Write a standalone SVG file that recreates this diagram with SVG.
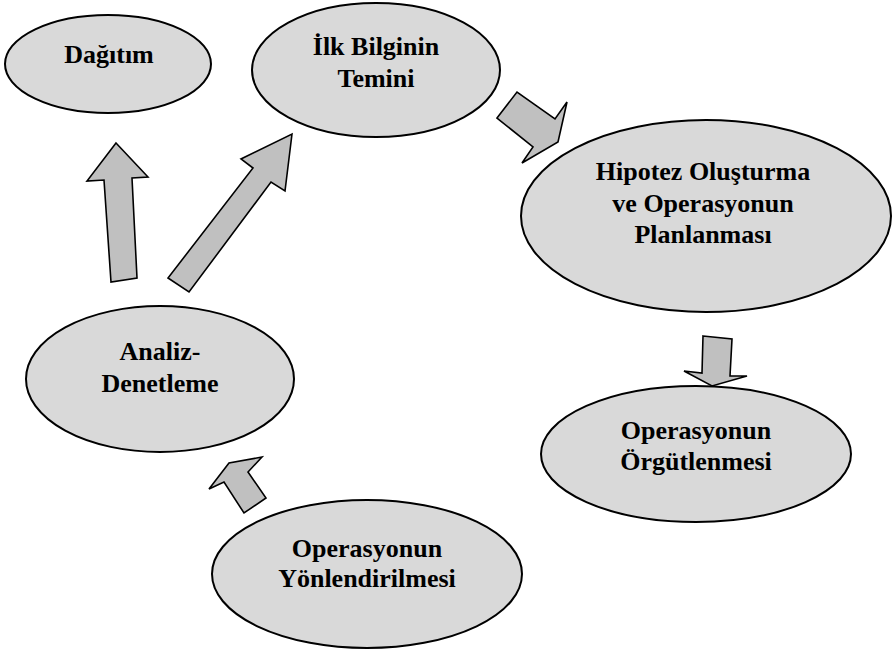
<svg xmlns="http://www.w3.org/2000/svg" width="892" height="650" viewBox="0 0 892 650">
<style>
.node ellipse{fill:#d9d9d9;stroke:#000;stroke-width:2}
.node text{font-family:'Liberation Serif','DejaVu Serif',serif;font-weight:700;font-size:26px;fill:#000;text-anchor:middle}
.arrow{fill:#c0c0c0;stroke:#000;stroke-width:1.6;stroke-linejoin:miter}
</style>
<rect width="892" height="650" fill="#fff"/>
<g id="dagitim" class="node">
<ellipse cx="108" cy="64" rx="103" ry="49"/>
<text x="109" y="63">Dağıtım</text>
</g>
<g id="ilk-bilgi" class="node">
<ellipse cx="376" cy="70" rx="124" ry="67"/>
<text x="376" y="55">İlk Bilginin</text>
<text x="376" y="87">Temini</text>
</g>
<g id="hipotez" class="node">
<ellipse cx="706" cy="216" rx="185" ry="96"/>
<text x="703" y="180">Hipotez Oluşturma</text>
<text x="703" y="212">ve Operasyonun</text>
<text x="703" y="243">Planlanması</text>
</g>
<g id="orgutlenme" class="node">
<ellipse cx="696" cy="454" rx="155" ry="68"/>
<text x="696" y="439">Operasyonun</text>
<text x="696" y="470">Örgütlenmesi</text>
</g>
<g id="yonlendirme" class="node">
<ellipse cx="367" cy="574" rx="155" ry="74"/>
<text x="367" y="557">Operasyonun</text>
<text x="367" y="587">Yönlendirilmesi</text>
</g>
<g id="analiz" class="node">
<ellipse cx="160" cy="379" rx="134" ry="73"/>
<text x="160" y="360">Analiz-</text>
<text x="160" y="392">Denetleme</text>
</g>
<g id="connectors">
<polygon class="arrow" points="497,118 517,92 555,119 567,102 558,142 522,163 533,147"/>
<polygon class="arrow" points="703,336 732,339 730,376 747,376 712,386 684,371 702,373"/>
<polygon class="arrow" points="262,457 229,463 209,489 224,482 244,513 266,498 248,472"/>
<polygon class="arrow" points="116,143 148,177 132,178 137,278 111,282 104,180 87,181"/>
<polygon class="arrow" points="292,134 285,191 271,182 189,292 168,278 253,168 241,159"/>
</g>
</svg>
